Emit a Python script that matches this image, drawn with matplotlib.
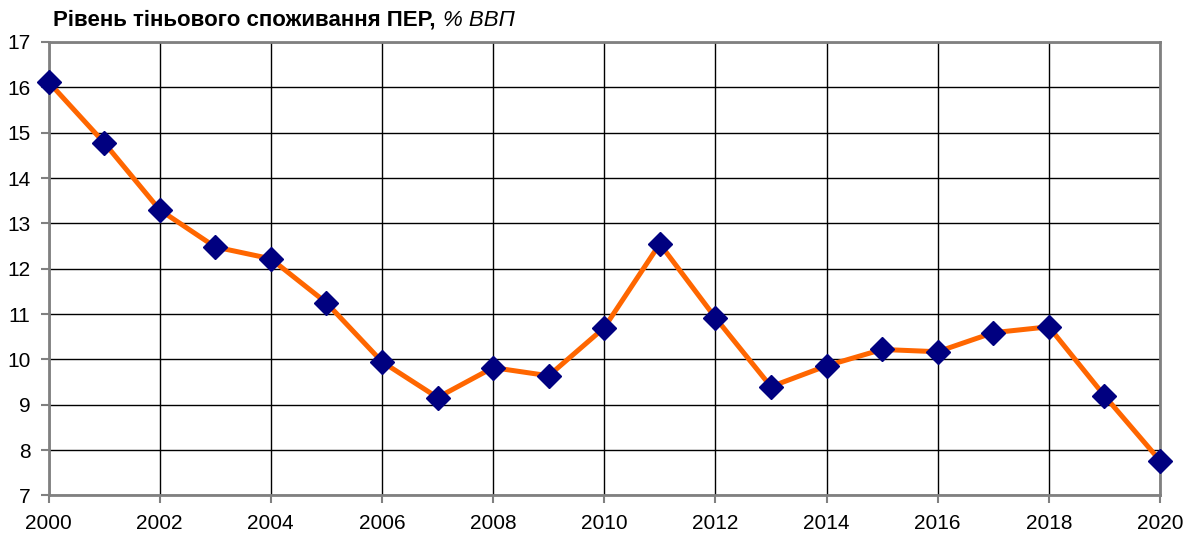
import matplotlib.pyplot as plt
import numpy as np
from matplotlib.transforms import offset_copy

plt.rcParams['font.family'] = ['Liberation Sans', 'DejaVu Sans']

years = np.arange(2000, 2021)
shadow_share = [16.12, 14.78, 13.30, 12.48, 12.22, 11.25, 9.95, 9.16, 9.82, 9.64,
                10.70, 12.55, 10.92, 9.40, 9.86, 10.22, 10.17, 10.59, 10.72, 9.20, 7.77]
x_ticks = np.arange(2000, 2021, 2)
y_ticks = np.arange(7, 18, 1)

fig = plt.figure(figsize=(11.95, 5.37), dpi=100)
ax = fig.add_axes([0.0406, 0.0773, 0.9301, 0.8445])

ax.plot(years, shadow_share, color="#FF6600", lw=3.6, zorder=3, clip_on=False)
ax.plot(years, shadow_share, ls="none", marker="D", ms=12, color="#000080",
        zorder=4, clip_on=False)

ax.set_xlim(2000, 2020)
ax.set_ylim(7, 17)
ax.set_xticks(x_ticks)
ax.set_yticks(y_ticks)
ax.grid(True, color="black", lw=1.0)
ax.tick_params(direction="out", length=6, width=1.5, color="#808080",
               labelsize=15, pad=7)
for s in ax.spines.values():
    s.set_color("#808080")
    s.set_linewidth(2)

t1 = fig.text(0.044, 0.952, "Рівень тіньового споживання ПЕР,", fontsize=16,
              fontweight="bold", va="baseline")
fig.canvas.draw()
w = t1.get_window_extent().width
fig.text(0.044, 0.952, "% ВВП", fontsize=16, style="italic", va="baseline",
         transform=offset_copy(fig.transFigure, fig=fig, x=w + 8, y=0, units="dots"))

fig.savefig("out.png", dpi=100)
